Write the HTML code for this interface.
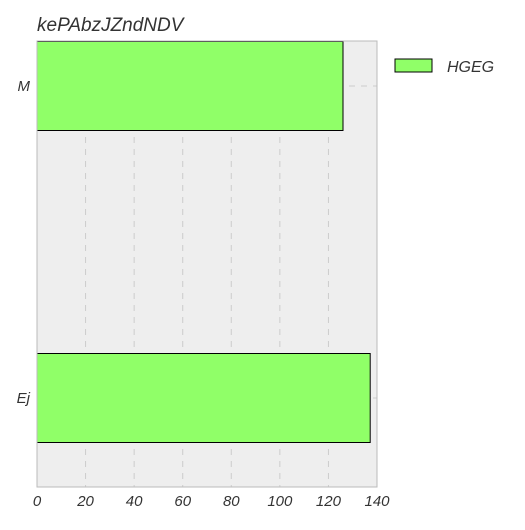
<!DOCTYPE html>
<html><head><meta charset="utf-8"><style>
body{margin:0;background:#fff;}
svg text{font-family:"Liberation Sans",sans-serif;font-style:italic;fill:#333;}
</style></head><body>
<svg width="525" height="525" xmlns="http://www.w3.org/2000/svg">
<text x="37" y="31" font-size="19">kePAbzJZndNDV</text>
<rect x="37" y="41" width="340" height="446" fill="#eeeeee"/>
<g id="grid"></g>
<g id="bars"></g>
<rect x="37" y="41" width="340" height="446" fill="none" stroke="#bbbbbb" stroke-width="1"/>
<g id="ticks"></g>
<rect x="395" y="59" width="37" height="13" fill="#90ff68" stroke="#000"/>
<text x="447" y="72" font-size="16">HGEG</text>
</svg>
<script>
const categories = ["M","Ej"];
const values = [126, 137.2];
const xTicks = [0,20,40,60,80,100,120,140];
const x0=37, x1=377, xMax=140, yTop=41, yBot=487;
function xs(v){return x0+(v/xMax)*(x1-x0);}
function yCenter(i){return yTop+45+i*312;}
const ns="http://www.w3.org/2000/svg";
const grid=document.getElementById('grid'), bars=document.getElementById('bars'), ticks=document.getElementById('ticks');
xTicks.forEach(t=>{
  if(t>0&&t<xMax){
    const l=document.createElementNS(ns,'line');
    l.setAttribute('x1',xs(t));l.setAttribute('x2',xs(t));l.setAttribute('y1',yTop);l.setAttribute('y2',yBot);
    l.setAttribute('stroke','#cccccc');l.setAttribute('stroke-dasharray','6,6');
    
    
    grid.appendChild(l);
  }
  const tx=document.createElementNS(ns,'text');
  tx.setAttribute('x',xs(t));tx.setAttribute('y',506);tx.setAttribute('font-size','15');tx.setAttribute('text-anchor','middle');
  tx.textContent=t;
  
  
  ticks.appendChild(tx);
});
categories.forEach((c,i)=>{
  const cy=yCenter(i);
  const l=document.createElementNS(ns,'line');
  l.setAttribute('x1',x0);l.setAttribute('x2',x1);l.setAttribute('y1',cy);l.setAttribute('y2',cy);
  l.setAttribute('stroke','#cccccc');l.setAttribute('stroke-dasharray','6,6');
  
  
  grid.appendChild(l);
  const r=document.createElementNS(ns,'rect');
  r.setAttribute('x',x0);r.setAttribute('y',cy-44.5);r.setAttribute('width',xs(values[i])-x0);r.setAttribute('height',89);
  r.setAttribute('fill','#90ff68');r.setAttribute('stroke','#000');
  
  
  bars.appendChild(r);
  const tx=document.createElementNS(ns,'text');
  tx.setAttribute('x',30);tx.setAttribute('y',cy+5);tx.setAttribute('font-size','15');tx.setAttribute('text-anchor','end');
  tx.textContent=c;
  
  
  ticks.appendChild(tx);
});
</script>
</body></html>
